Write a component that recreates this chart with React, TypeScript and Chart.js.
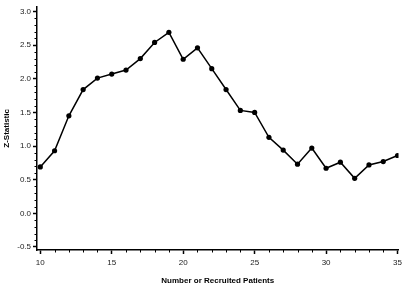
import React, { useEffect, useRef } from "react";
import { Chart, registerables } from "chart.js";

Chart.register(...registerables);

const patients = [10, 11, 12, 13, 14, 15, 16, 17, 18, 19, 20, 21, 22, 23, 24, 25, 26, 27, 28, 29, 30, 31, 32, 33, 34, 35];
const zStat = [0.69, 0.93, 1.45, 1.84, 2.01, 2.07, 2.13, 2.30, 2.54, 2.69, 2.29, 2.46, 2.15, 1.84, 1.53, 1.50, 1.13, 0.94, 0.73, 0.97, 0.67, 0.76, 0.52, 0.72, 0.77, 0.86];
const xMajorTicks = [10, 15, 20, 25, 30, 35];
const yMajorTicks = [-0.5, 0.0, 0.5, 1.0, 1.5, 2.0, 2.5, 3.0];
const xMinorTicks = [11, 12, 13, 14, 16, 17, 18, 19, 21, 22, 23, 24, 26, 27, 28, 29, 31, 32, 33, 34];
const yMinorTicks = [-0.4, -0.3, -0.2, -0.1, 0.1, 0.2, 0.3, 0.4, 0.6, 0.7, 0.8, 0.9, 1.1, 1.2, 1.3, 1.4, 1.6, 1.7, 1.8, 1.9, 2.1, 2.2, 2.3, 2.4, 2.6, 2.7, 2.8, 2.9];

const minorTickPlugin = {
  id: "minorTicks",
  afterDraw(chart: any) {
    const ctx = chart.ctx;
    const xs = chart.scales.x;
    const ys = chart.scales.y;
    ctx.save();
    ctx.strokeStyle = "#000";
    ctx.lineWidth = 1;
    ctx.beginPath();
    xMinorTicks.forEach((v) => {
      const px = Math.round(xs.getPixelForValue(v)) + 0.5;
      ctx.moveTo(px, xs.top);
      ctx.lineTo(px, xs.top + 2.5);
    });
    yMinorTicks.forEach((v) => {
      const py = Math.round(ys.getPixelForValue(v)) + 0.5;
      ctx.moveTo(ys.right, py);
      ctx.lineTo(ys.right - 2.5, py);
    });
    ctx.stroke();
    ctx.restore();
  },
};

export default function App() {
  const ref = useRef<HTMLCanvasElement | null>(null);
  useEffect(() => {
    document.body.style.margin = "0";
    if (!ref.current) return;
    const font = { family: "'Liberation Sans', Arial, sans-serif", size: 8 };
    const chart = new Chart(ref.current, {
      type: "line",
      data: {
        datasets: [
          {
            data: patients.map((p, i) => ({ x: p, y: zStat[i] })),
            borderColor: "#000",
            borderWidth: 1.5,
            backgroundColor: "#000",
            pointRadius: 2.6,
            pointBorderWidth: 0,
            pointBackgroundColor: "#000",
            tension: 0,
          },
        ],
      },
      options: {
        animation: false,
        responsive: false,
        layout: { padding: { top: 2, right: 5, left: 0, bottom: 0 } },
        plugins: { legend: { display: false }, tooltip: { enabled: false } },
        scales: {
          x: {
            type: "linear",
            min: 9.77,
            max: 35.07,
            afterFit(scale: any) {
              scale.height = 36;
            },
            afterBuildTicks(scale: any) {
              scale.ticks = xMajorTicks.map((v) => ({ value: v }));
            },
            border: { color: "#000", width: 1.5 },
            grid: { drawOnChartArea: false, tickLength: 4, tickColor: "#000", tickWidth: 1.5 },
            ticks: { font, color: "#222", padding: 4, maxRotation: 0, callback: (v: any) => String(v) },
            title: {
              display: true,
              text: "Number or Recruited Patients",
              font: { ...font, weight: "bold" },
              color: "#000",
              padding: { top: 0, bottom: 0 },
            },
          },
          y: {
            type: "linear",
            min: -0.545,
            max: 3.07,
            afterFit(scale: any) {
              scale.width = 37;
            },
            afterBuildTicks(scale: any) {
              scale.ticks = yMajorTicks.map((v) => ({ value: v }));
            },
            border: { color: "#000", width: 1.5 },
            grid: { drawOnChartArea: false, tickLength: 4, tickColor: "#000", tickWidth: 1.5 },
            ticks: { font, color: "#222", padding: 2, callback: (v: any) => Number(v).toFixed(1) },
            title: {
              display: true,
              text: "Z-Statistic",
              font: { ...font, weight: "bold" },
              color: "#000",
              padding: { top: 2, bottom: 0 },
            },
          },
        },
      },
      plugins: [minorTickPlugin],
    } as any);
    return () => chart.destroy();
  }, []);
  return (
    <div style={{ width: 406, height: 286 }}>
      <canvas ref={ref} width={406} height={286} style={{ display: "block" }} />
    </div>
  );
}
